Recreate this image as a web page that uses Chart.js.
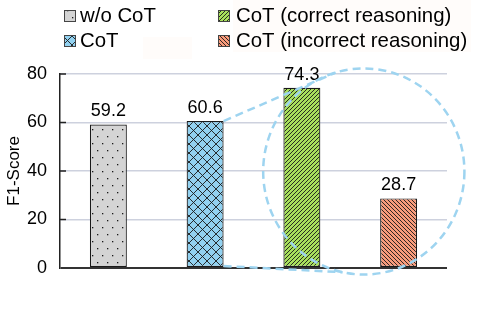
<!DOCTYPE html>
<html><head><meta charset="utf-8">
<script src="https://cdn.jsdelivr.net/npm/chart.js@4.4.1/dist/chart.umd.min.js"></script>
<style>html,body{margin:0;padding:0;background:#fff}#wrap{width:488px;height:310px;position:relative}</style>
</head><body><div id="wrap"><canvas id="c" width="488" height="310"></canvas></div>
<script>
const categories = ['w/o CoT', 'CoT', 'CoT (correct reasoning)', 'CoT (incorrect reasoning)'];
const f1Scores = [59.2, 60.6, 74.3, 28.7];
const yTicks = [0, 20, 40, 60, 80];
const fillColors = ['#d4d4d4', '#92d1f0', '#a8e05c', '#f89b7b'];
const patternKinds = ['dots', 'cross', 'fwd', 'back'];
const yTitle = 'F1-Score';

function makePattern(kind, bg) {
  const c = document.createElement('canvas');
  let w = 4, h = 4;
  if (kind === 'dots') { w = 10; h = 14; }
  if (kind === 'cross') { w = 9; h = 9; }
  c.width = w; c.height = h;
  const g = c.getContext('2d');
  g.fillStyle = bg; g.fillRect(0, 0, w, h);
  g.strokeStyle = '#1a1a1a'; g.fillStyle = '#1a1a1a'; g.lineWidth = 0.9;
  if (kind === 'dots') {
    g.fillRect(2, 3, 1.3, 1.3); g.fillRect(7, 10, 1.3, 1.3);
  } else if (kind === 'cross') {
    g.beginPath();
    g.moveTo(0, 0); g.lineTo(w, h);
    g.moveTo(0, h); g.lineTo(w, 0);
    g.stroke();
  } else if (kind === 'fwd') {
    g.beginPath();
    g.moveTo(-1, h + 1); g.lineTo(w + 1, -1);
    g.moveTo(-1, 1); g.lineTo(1, -1);
    g.moveTo(w - 1, h + 1); g.lineTo(w + 1, h - 1);
    g.stroke();
  } else {
    g.beginPath();
    g.moveTo(-1, -1); g.lineTo(w + 1, h + 1);
    g.moveTo(-1, h - 1); g.lineTo(1, h + 1);
    g.moveTo(w - 1, -1); g.lineTo(w + 1, 1);
    g.stroke();
  }
  return document.getElementById('c').getContext('2d').createPattern(c, 'repeat');
}
const patterns = patternKinds.map((k, i) => makePattern(k, fillColors[i]));

const FONT = '"Liberation Sans", Arial, sans-serif';

const decor = {
  id: 'decor',
  beforeDraw(chart) {
    const ctx = chart.ctx;
    ctx.save();
    ctx.fillStyle = '#fffcfa';
    ctx.fillRect(233, 0, 238, 52);
    ctx.fillRect(143, 37, 49, 22);
    ctx.restore();
  },
  afterDatasetsDraw(chart) {
    const ctx = chart.ctx;
    const xs = chart.scales.x, ys = chart.scales.y;
    const meta = chart.getDatasetMeta(0);
    ctx.save();
    // inside tick marks
    ctx.strokeStyle = '#222'; ctx.lineWidth = 1.5;
    yTicks.forEach(v => {
      if (v === 0) return;
      const py = ys.getPixelForValue(v);
      ctx.beginPath(); ctx.moveTo(chart.chartArea.left, py); ctx.lineTo(chart.chartArea.left + 6, py); ctx.stroke();
    });
    // value labels
    ctx.fillStyle = '#000';
    ctx.font = '18px ' + FONT;
    ctx.textAlign = 'center'; ctx.textBaseline = 'alphabetic';
    meta.data.forEach((bar, i) => {
      ctx.fillText(f1Scores[i].toFixed(1), bar.x, bar.y - 8);
    });
    // zoom ellipse
    const step = xs.getPixelForValue(3) - xs.getPixelForValue(2);
    const cx = xs.getPixelForValue(2) + 0.64 * step;
    const cy = ys.getPixelForValue(39.8);
    const rx = 1.04 * step;
    const ry = ys.getPixelForValue(0) - ys.getPixelForValue(42.5);
    ctx.strokeStyle = '#9ed4f0'; ctx.lineWidth = 2.5; ctx.setLineDash([8, 5]);
    ctx.beginPath(); ctx.ellipse(cx, cy, rx, ry, 0, 0, Math.PI * 2); ctx.stroke();
    const b = meta.data[1];
    const right = b.x + b.width / 2;
    const tU = Math.atan2(-0.962, -0.28), tL = Math.atan2(0.978, -0.21);
    ctx.beginPath();
    ctx.moveTo(right, b.y);
    ctx.lineTo(cx + rx * Math.cos(tU), cy + ry * Math.sin(tU));
    ctx.moveTo(right, b.base - 1);
    ctx.lineTo(cx + rx * Math.cos(tL), cy + ry * Math.sin(tL));
    ctx.stroke();
    ctx.setLineDash([]);
    // legend
    const cols = [64, 218], rows = [10, 35];
    ctx.font = '20.4px ' + FONT; ctx.textAlign = 'left'; ctx.textBaseline = 'middle';
    categories.forEach((name, i) => {
      const col = cols[i < 2 ? 0 : 1], row = rows[i % 2];
      ctx.fillStyle = patterns[i];
      ctx.fillRect(col, row, 12, 12);
      ctx.strokeStyle = '#444'; ctx.lineWidth = 1;
      ctx.strokeRect(col + 0.5, row + 0.5, 11, 11);
      ctx.fillStyle = '#000';
      ctx.fillText(name, col + (i < 2 ? 16 : 18), row + 6);
    });
    ctx.restore();
  }
};

new Chart(document.getElementById('c'), {
  type: 'bar',
  data: {
    labels: categories,
    datasets: [{
      data: f1Scores,
      backgroundColor: patterns,
      borderColor: '#1a1a1a',
      borderWidth: 1.2,
      borderSkipped: false,
      categoryPercentage: 1,
      barPercentage: 0.382
    }]
  },
  options: {
    responsive: false,
    animation: false,
    devicePixelRatio: 1,
    layout: { padding: { top: 74, right: 41, bottom: 42, left: 0 } },
    plugins: { legend: { display: false }, tooltip: { enabled: false } },
    scales: {
      x: { display: false },
      y: {
        min: 0, max: 80,
        afterBuildTicks: (s) => { s.ticks = yTicks.map(v => ({ value: v })); },
        afterFit: (s) => { s.width = 60; },
        ticks: { color: '#000', font: { family: FONT, size: 18 }, padding: 13 },
        grid: {
          drawTicks: false,
          color: (c) => c.tick && c.tick.value === 0 ? '#333' : '#cdd1de',
          lineWidth: (c) => c.tick && c.tick.value === 0 ? 2 : 1.5
        },
        border: { color: '#222', width: 1.5 },
        title: { display: true, text: yTitle, color: '#000', font: { family: FONT, size: 17 }, padding: 4 }
      }
    }
  },
  plugins: [decor]
});
</script></body></html>
